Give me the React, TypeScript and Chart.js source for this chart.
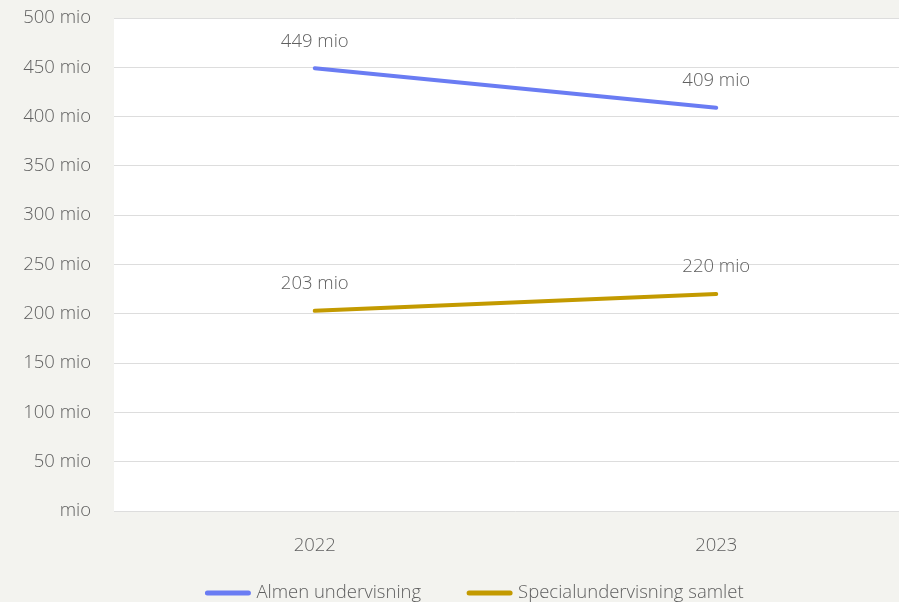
import React, { useEffect, useRef } from "react";
import { Chart, registerables } from "chart.js";

Chart.register(...registerables);

const categories = ["2022", "2023"];
const almenValues = [449, 409];
const specialValues = [203, 220];
const seriesNames = ["Almen undervisning", "Specialundervisning samlet"];
const seriesColors = ["#6a7cf3", "#c39a00"];
const yTicks = [0, 50, 100, 150, 200, 250, 300, 350, 400, 450, 500];

const BG = "#f3f3ef";
const TEXT = "#606060";
const FONT = "'Open Sans', Lato, sans-serif";
const FS = 18.5;
const FW = 300;

const fmt = (v: number) => (v === 0 ? "mio" : `${v} mio`);

export default function App() {
  const ref = useRef<HTMLCanvasElement | null>(null);
  useEffect(() => {
    document.body.style.margin = "0";
    const bgPlugin = {
      id: "bgPlugin",
      beforeDraw(chart: any) {
        const { ctx, chartArea } = chart;
        ctx.save();
        ctx.fillStyle = BG;
        ctx.fillRect(0, 0, chart.width, chart.height);
        ctx.fillStyle = "#ffffff";
        ctx.fillRect(chartArea.left, chartArea.top, chartArea.right - chartArea.left, chartArea.bottom - chartArea.top);
        ctx.restore();
      },
    };
    const labelPlugin = {
      id: "labelPlugin",
      afterDatasetsDraw(chart: any) {
        const { ctx } = chart;
        ctx.save();
        ctx.font = `${FW} ${FS}px ${FONT}`;
        ctx.fillStyle = TEXT;
        ctx.textAlign = "center";
        ctx.textBaseline = "middle";
        chart.data.datasets.forEach((ds: any, i: number) => {
          const meta = chart.getDatasetMeta(i);
          meta.data.forEach((pt: any, j: number) => {
            ctx.fillText(fmt(ds.data[j]), pt.x, pt.y - 27);
          });
        });
        ctx.restore();
      },
    };
    const legendPlugin = {
      id: "customLegend",
      afterDraw(chart: any) {
        const { ctx } = chart;
        ctx.save();
        ctx.font = `${FW} ${FS}px ${FONT}`;
        const lineW = 45;
        const gapText = 6;
        const gapItem = 46;
        const widths = seriesNames.map((n) => ctx.measureText(n).width);
        const total = widths.reduce((a, w) => a + lineW + gapText + w, 0) + gapItem * (seriesNames.length - 1);
        let x = 474.5 - total / 2;
        const y = 593;
        seriesNames.forEach((n, i) => {
          ctx.strokeStyle = seriesColors[i];
          ctx.lineWidth = 5;
          ctx.lineCap = "round";
          ctx.beginPath();
          ctx.moveTo(x + 2, y);
          ctx.lineTo(x + lineW - 2, y);
          ctx.stroke();
          ctx.fillStyle = TEXT;
          ctx.textAlign = "left";
          ctx.textBaseline = "middle";
          ctx.fillText(n, x + lineW + gapText, y);
          x += lineW + gapText + widths[i] + gapItem;
        });
        ctx.restore();
      },
    };
    const chart = new Chart(ref.current!, {
      type: "line",
      data: {
        labels: categories,
        datasets: [
          {
            label: seriesNames[0],
            data: almenValues,
            borderColor: seriesColors[0],
            backgroundColor: seriesColors[0],
            borderWidth: 4,
            borderCapStyle: "round",
            pointRadius: 0,
          },
          {
            label: seriesNames[1],
            data: specialValues,
            borderColor: seriesColors[1],
            backgroundColor: seriesColors[1],
            borderWidth: 4,
            borderCapStyle: "round",
            pointRadius: 0,
          },
        ],
      },
      options: {
        animation: false,
        responsive: false,
        layout: { padding: { top: 18, right: 0, left: 0, bottom: 65 } },
        plugins: {
          tooltip: { enabled: false },
          legend: { display: false },
        },
        scales: {
          x: {
            offset: true,
            grid: { display: false, drawTicks: false },
            border: { display: false },
            ticks: { color: TEXT, font: { family: FONT, size: FS, weight: FW }, padding: 24 },
            afterFit: (axis: any) => {
              axis.height = 44;
              axis.paddingLeft = 0;
              axis.paddingRight = 0;
            },
          },
          y: {
            min: 0,
            max: 500,
            afterBuildTicks: (axis: any) => {
              axis.ticks = yTicks.map((v) => ({ value: v }));
            },
            afterFit: (axis: any) => {
              axis.width = 114;
              axis.paddingTop = 0;
              axis.paddingBottom = 0;
            },
            grid: { color: "#dddddd", lineWidth: 1, drawTicks: false },
            border: { display: false },
            ticks: {
              color: TEXT,
              font: { family: FONT, size: FS, weight: FW },
              padding: 23,
              callback: (v: any) => fmt(Number(v)),
            },
          },
        },
      },
      plugins: [bgPlugin, labelPlugin, legendPlugin],
    });
    return () => chart.destroy();
  }, []);
  return (
    <div style={{ position: "fixed", left: 0, top: 0, width: 899, height: 602, overflow: "hidden", background: BG }}>
      <canvas ref={ref} width={917} height={620} style={{ display: "block" }} />
    </div>
  );
}
